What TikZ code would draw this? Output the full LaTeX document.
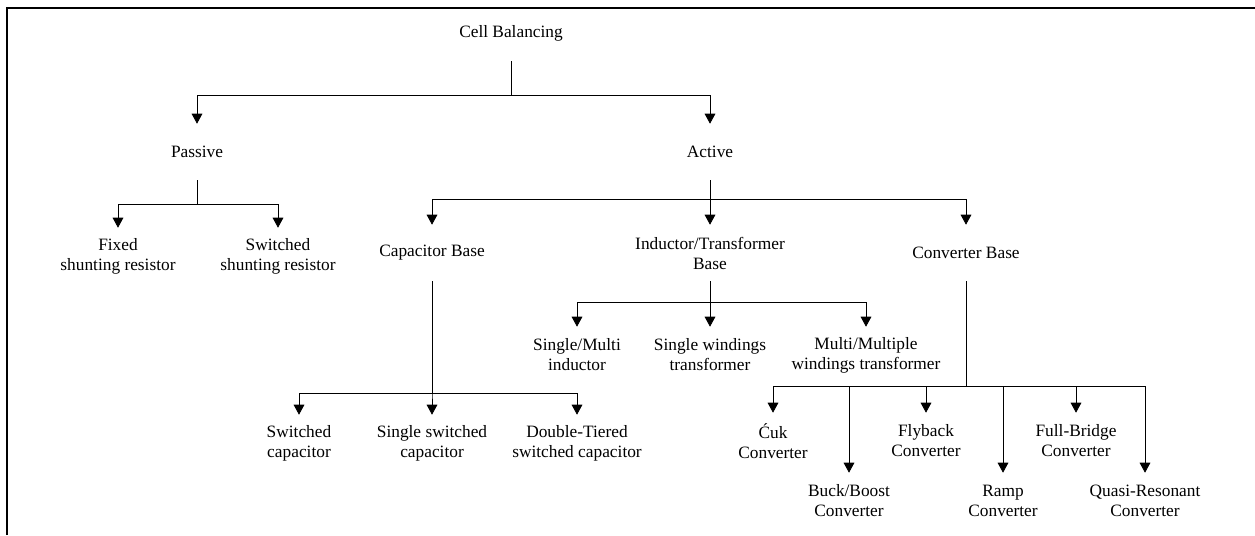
\documentclass[tikz,border=0pt]{standalone}
\usepackage{fontspec}
\setmainfont{Liberation Serif}
\usetikzlibrary{arrows.meta}
\tikzset{
  box/.style={align=center, inner sep=0pt, minimum height=42pt,
    font=\fontsize{13}{15}\selectfont},
  link/.style={draw, line width=0.6pt, -{Triangle[width=8pt,length=7.5pt]}}
}
\newcommand\branch[3]{
  \draw[link] (#1) -- (#1 |- #2) -| (#3);
}

\begin{document}
\begin{tikzpicture}[x=0.75pt,y=-0.75pt]
      \useasboundingbox (0,0) rectangle (1255,535);
      \draw[line width=1.5pt] (7,535) -- (7,8) -- (1255,8);

      \node[box] (cell) at (511,33) {Cell Balancing};
      \node[box] (passive) at (197,152) {Passive};
      \node[box] (active) at (710,152) {Active};

      \node[box] (fixed) at (118,256) {Fixed\\shunting resistor};
      \node[box] (switched) at (278,256) {Switched\\shunting resistor};
      \node[box] (capbase) at (432,253) {Capacitor Base};
      \node[box] (indbase) at (710,253) {Inductor/Transformer\\Base};
      \node[box] (convbase) at (966,253) {Converter Base};

      \node[box] (multind) at (577,355) {Single/Multi\\inductor};
      \node[box] (sglwind) at (710,355) {Single windings\\transformer};
      \node[box] (multwind) at (866,355) {Multi/Multiple\\windings transformer};

      \node[box] (swcap) at (299,443) {Switched\\capacitor};
      \node[box] (sglcap) at (432,443) {Single switched\\capacitor};
      \node[box] (dblcap) at (577,443) {Double-Tiered\\switched capacitor};

      \node[box] (cuk) at (773,441) {Ćuk\\Converter};
      \node[box] (buck) at (849,501) {Buck/Boost\\Converter};
      \node[box] (flyback) at (926,441) {Flyback\\Converter};
      \node[box] (ramp) at (1003,501) {Ramp\\Converter};
      \node[box] (fullbr) at (1076,441) {Full-Bridge\\Converter};
      \node[box] (quasi) at (1145,501) {Quasi-Resonant\\Converter};

      % levels of the horizontal bars
      \coordinate (cellbar) at (0,95);
      \coordinate (passbar) at (0,204);
      \coordinate (actbar) at (0,199);
      \coordinate (indbar) at (0,302);
      \coordinate (convbar) at (0,386);
      \coordinate (capbar) at (0,393);

      \branch{cell}{cellbar}{passive}
      \branch{cell}{cellbar}{active}

      \branch{passive}{passbar}{fixed}
      \branch{passive}{passbar}{switched}

      \branch{active}{actbar}{capbase}
      \branch{active}{actbar}{indbase}
      \branch{active}{actbar}{convbase}

      \branch{indbase}{indbar}{multind}
      \branch{indbase}{indbar}{sglwind}
      \branch{indbase}{indbar}{multwind}

      \branch{capbase}{capbar}{swcap}
      \branch{capbase}{capbar}{sglcap}
      \branch{capbase}{capbar}{dblcap}

      \branch{convbase}{convbar}{cuk}
      \branch{convbase}{convbar}{buck}
      \branch{convbase}{convbar}{flyback}
      \branch{convbase}{convbar}{ramp}
      \branch{convbase}{convbar}{fullbr}
      \branch{convbase}{convbar}{quasi}

    \end{tikzpicture}
\end{document}
